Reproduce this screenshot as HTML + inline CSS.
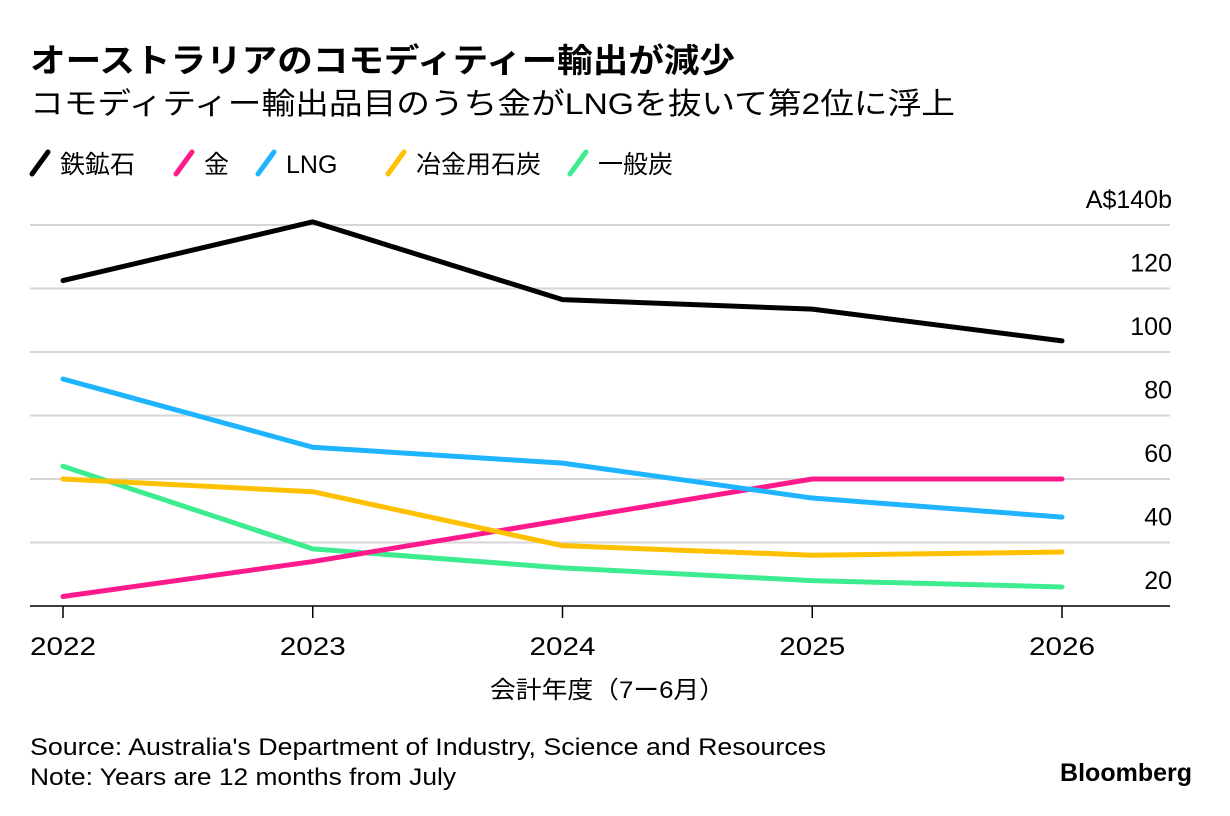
<!DOCTYPE html>
<html><head><meta charset="utf-8">
<style>
body{margin:0;background:#fff;width:1230px;height:816px;overflow:hidden;font-family:"Liberation Sans","Noto Sans CJK JP",sans-serif;color:#000}
</style></head>
<body>
<svg id="c" width="1230" height="816" xmlns="http://www.w3.org/2000/svg" style="position:absolute;left:0;top:0">
<text x="30" y="72" font-size="33" font-weight="bold" textLength="705" lengthAdjust="spacingAndGlyphs">オーストラリアのコモディティー輸出が減少</text>
<text x="30" y="114" font-size="30" textLength="925" lengthAdjust="spacingAndGlyphs">コモディティー輸出品目のうち金がLNGを抜いて第2位に浮上</text>
<g id="legend"></g>
<g id="grid"></g>
<g id="lines"></g>
<text x="490" y="698" font-size="24" textLength="235" lengthAdjust="spacingAndGlyphs">会計年度（7ー6月）</text>
<text x="30" y="755" font-size="24" textLength="796" lengthAdjust="spacingAndGlyphs">Source: Australia's Department of Industry, Science and Resources</text>
<text x="30" y="785" font-size="24" textLength="426" lengthAdjust="spacingAndGlyphs">Note: Years are 12 months from July</text>
<text x="1192" y="781" font-size="25" font-weight="bold" text-anchor="end">Bloomberg</text>
</svg>
<script>
const years=["2022","2023","2024","2025","2026"];
const yTicks=[20,40,60,80,100,120,140];
const ironOre=[122.5,141,116.5,113.5,103.5];
const gold=[23,34,47,60,60];
const lng=[91.5,70,65,54,48];
const cokingCoal=[60,56,39,36,37];
const thermalCoal=[64,38,32,28,26];
const seriesNames=["鉄鉱石","金","LNG","冶金用石炭","一般炭"];
const colors=["#000000","#ff1a8c","#1fb4ff","#ffc000","#3dec8f"];
const allSeries=[ironOre,gold,lng,cokingCoal,thermalCoal];
const NS="http://www.w3.org/2000/svg";
const xs=i=>63+i*249.75;
const ys=v=>606-(v-20)*3.175;
function mk(t,a,p){const e=document.createElementNS(NS,t);for(const k in a)e.setAttribute(k,a[k]);p.appendChild(e);return e;}
const grid=document.getElementById('grid');
yTicks.forEach((v,i)=>{
  if(i>0){const l=mk('line',{x1:30,x2:1170,y1:ys(v),y2:ys(v),stroke:'#d6d6d6','stroke-width':2},grid);
  
  }
  const t=mk('text',{x:1172,y:ys(v)-17,'font-size':25,'text-anchor':'end'},grid);
  t.textContent=(i==yTicks.length-1?'A$'+v+'b':v);
  
  
});
const base=mk('line',{x1:30,x2:1170,y1:606,y2:606,stroke:'#000','stroke-width':1.5},grid);


years.forEach((y,i)=>{
  const tk=mk('line',{x1:xs(i),x2:xs(i),y1:606,y2:618,stroke:'#000','stroke-width':1.5},grid);
  
  
  const t=mk('text',{x:xs(i),y:655,'font-size':25,'text-anchor':'middle',textLength:66,lengthAdjust:'spacingAndGlyphs'},grid);
  t.textContent=y;
  
  
});
const lines=document.getElementById('lines');
allSeries.forEach((s,k)=>{
  const p=mk('polyline',{points:s.map((v,i)=>xs(i)+','+ys(v)).join(' '),fill:'none',stroke:colors[k],'stroke-width':5,'stroke-linejoin':'round','stroke-linecap':'round'},lines);
  
  
});
lines.insertBefore(lines.lastChild,lines.firstChild);
const lg=document.getElementById('legend');
const lx=[32,176,258,388,570];
seriesNames.forEach((n,k)=>{
  const g=mk('g',{},lg);
  
  
  mk('line',{x1:lx[k],y1:174,x2:lx[k]+16,y2:152,stroke:colors[k],'stroke-width':5,'stroke-linecap':'round'},g);
  const t=mk('text',{x:lx[k]+28,y:173,'font-size':25},g);
  t.textContent=n;
});
</script>
</body></html>
